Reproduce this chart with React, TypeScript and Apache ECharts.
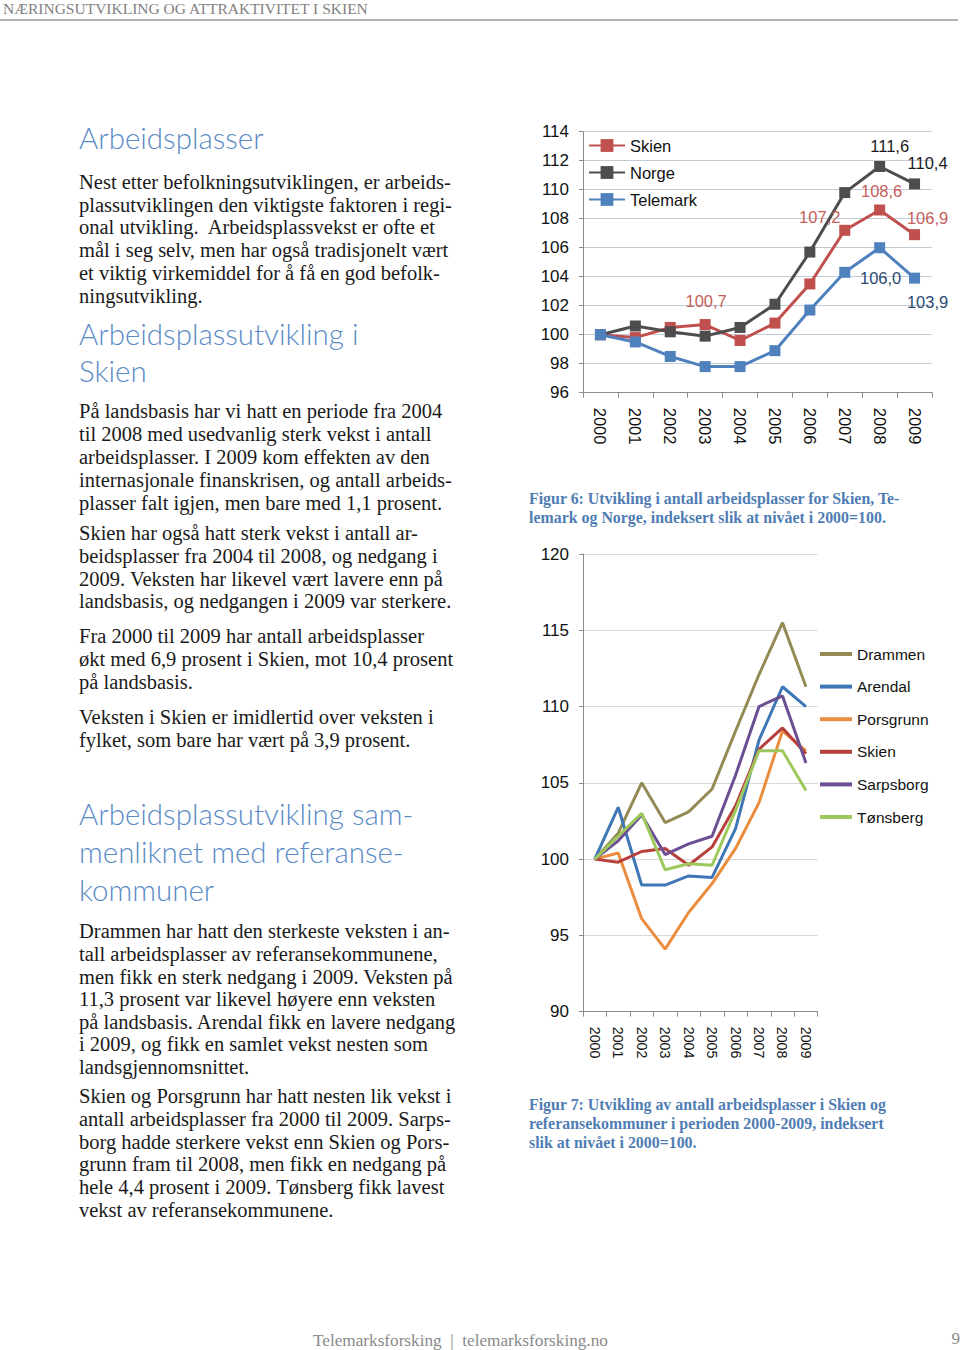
import React, { useEffect, useRef } from "react";
import * as echarts from "echarts";

// ---------- DATA ----------
const years = ["2000", "2001", "2002", "2003", "2004", "2005", "2006", "2007", "2008", "2009"];

// Figur 6
const fig6Skien = [100, 99.8, 100.5, 100.7, 99.6, 100.8, 103.5, 107.2, 108.6, 106.9];
const fig6Norge = [100, 100.6, 100.2, 99.9, 100.5, 102.1, 105.7, 109.8, 111.6, 110.4];
const fig6Telemark = [100, 99.5, 98.5, 97.8, 97.8, 98.9, 101.7, 104.3, 106.0, 103.9];
const fig6YTicks = { min: 96, max: 114, step: 2 };

// Figur 7
const fig7Drammen = [100, 101.7, 105.0, 102.4, 103.1, 104.6, 108.4, 112.1, 115.5, 111.3];
const fig7Arendal = [100, 103.4, 98.3, 98.3, 98.9, 98.8, 102.0, 107.8, 111.3, 110.0];
const fig7Porsgrunn = [100, 100.4, 96.1, 94.1, 96.5, 98.4, 100.7, 103.7, 108.4, 107.1];
const fig7Skien = [100, 99.8, 100.5, 100.7, 99.6, 100.8, 103.5, 107.2, 108.6, 106.9];
const fig7Sarpsborg = [100, 101.2, 102.9, 100.3, 101.0, 101.5, 105.5, 110.0, 110.7, 106.3];
const fig7Tonsberg = [100, 101.5, 103.0, 99.3, 99.7, 99.6, 103.2, 107.1, 107.1, 104.5];
const fig7YTicks = { min: 90, max: 120, step: 5 };

// Labelled points in figur 6 (series -> year indices)
const fig6Labelled = { Skien: [3, 7, 8, 9], Norge: [8, 9], Telemark: [8, 9] };

// ---------- PAGE TEXT ----------
const headerText = "NÆRINGSUTVIKLING OG ATTRAKTIVITET I SKIEN";
const footerText = "Telemarksforsking  |  telemarksforsking.no";
const pageNumber = "9";

const heading1 = ["Arbeidsplasser"];
const para1 = [
  "Nest etter befolkningsutviklingen, er arbeids-",
  "plassutviklingen den viktigste faktoren i regi-",
  "onal utvikling.  Arbeidsplassvekst er ofte et",
  "mål i seg selv, men har også tradisjonelt vært",
  "et viktig virkemiddel for å få en god befolk-",
  "ningsutvikling.",
];
const heading2 = ["Arbeidsplassutvikling i", "Skien"];
const para2 = [
  "På landsbasis har vi hatt en periode fra 2004",
  "til 2008 med usedvanlig sterk vekst i antall",
  "arbeidsplasser. I 2009 kom effekten av den",
  "internasjonale finanskrisen, og antall arbeids-",
  "plasser falt igjen, men bare med 1,1 prosent.",
];
const para3 = [
  "Skien har også hatt sterk vekst i antall ar-",
  "beidsplasser fra 2004 til 2008, og nedgang i",
  "2009. Veksten har likevel vært lavere enn på",
  "landsbasis, og nedgangen i 2009 var sterkere.",
];
const para4 = [
  "Fra 2000 til 2009 har antall arbeidsplasser",
  "økt med 6,9 prosent i Skien, mot 10,4 prosent",
  "på landsbasis.",
];
const para5 = [
  "Veksten i Skien er imidlertid over veksten i",
  "fylket, som bare har vært på 3,9 prosent.",
];
const heading3 = ["Arbeidsplassutvikling sam-", "menliknet med referanse-", "kommuner"];
const para6 = [
  "Drammen har hatt den sterkeste veksten i an-",
  "tall arbeidsplasser av referansekommunene,",
  "men fikk en sterk nedgang i 2009. Veksten på",
  "11,3 prosent var likevel høyere enn veksten",
  "på landsbasis. Arendal fikk en lavere nedgang",
  "i 2009, og fikk en samlet vekst nesten som",
  "landsgjennomsnittet.",
];
const para7 = [
  "Skien og Porsgrunn har hatt nesten lik vekst i",
  "antall arbeidsplasser fra 2000 til 2009. Sarps-",
  "borg hadde sterkere vekst enn Skien og Pors-",
  "grunn fram til 2008, men fikk en nedgang på",
  "hele 4,4 prosent i 2009. Tønsberg fikk lavest",
  "vekst av referansekommunene.",
];
const caption6 = [
  "Figur 6: Utvikling i antall arbeidsplasser for Skien, Te-",
  "lemark og Norge, indeksert slik at nivået i 2000=100.",
];
const caption7 = [
  "Figur 7: Utvikling av antall arbeidsplasser i Skien og",
  "referansekommuner i perioden 2000-2009, indeksert",
  "slik at nivået i 2000=100.",
];

// ---------- STYLES ----------
const SERIF = "'Liberation Serif', 'DejaVu Serif', serif";
const SANS = "'Liberation Sans', Arial, sans-serif";
const LIGHT = "Lato, 'Open Sans', sans-serif";
const headingColor = "#5a8bc6";
const captionColor = "#4f7db3";
const bodyColor = "#1a1a1a";

type Block = { lines: string[]; x: number; baseline: number; step: number; size: number; font: string; color: string; weight?: any; k: number };

function blockElements(b: Block) {
  return b.lines.map((t, i) => ({
    type: "text",
    x: b.x,
    y: b.baseline + i * b.step - b.k * b.size,
    silent: true,
    style: {
      text: t,
      fontSize: b.size,
      fontFamily: b.font,
      fontWeight: b.weight || "normal",
      fill: b.color,
      align: "left",
      verticalAlign: "middle",
      textAlign: "left",
      textVerticalAlign: "middle",
    },
  }));
}

function fmt(v: number) {
  return v.toFixed(1).replace(".", ",");
}

const labelStyle: Record<string, { color: string; offsets: Record<number, [number, number]> }> = {
  Skien: { color: "#c4605b", offsets: { 3: [1, -24], 7: [-25, -13], 8: [2, -19], 9: [13, -17] } },
  Norge: { color: "#1a1a1a", offsets: { 8: [10, -21], 9: [13, -21] } },
  Telemark: { color: "#2a4a70", offsets: { 8: [1, 30], 9: [13, 24] } },
};

function fig6Data(name: string, values: number[]) {
  const idx: number[] = (fig6Labelled as any)[name];
  const st = labelStyle[name];
  return values.map((v, i) =>
    idx.includes(i)
      ? {
          value: v,
          label: {
            show: true,
            position: "inside",
            offset: st.offsets[i],
            formatter: () => fmt(v),
            color: st.color,
            fontSize: 16.5,
            fontFamily: SANS,
          },
        }
      : v
  );
}

export default function App() {
  const ref = useRef<HTMLDivElement>(null);

  useEffect(() => {
    if (!ref.current) return;
    const chart = echarts.init(ref.current, undefined, { renderer: "svg" });

    const bodyBlocks: Block[] = [
      { lines: para1, x: 79, baseline: 189, step: 22.7, size: 20.5, font: SERIF, color: bodyColor, k: 0.3375 },
      { lines: para2, x: 79, baseline: 418.3, step: 22.8, size: 20.5, font: SERIF, color: bodyColor, k: 0.3375 },
      { lines: para3, x: 79, baseline: 540, step: 22.8, size: 20.5, font: SERIF, color: bodyColor, k: 0.3375 },
      { lines: para4, x: 79, baseline: 643, step: 22.8, size: 20.5, font: SERIF, color: bodyColor, k: 0.3375 },
      { lines: para5, x: 79, baseline: 723.8, step: 22.8, size: 20.5, font: SERIF, color: bodyColor, k: 0.3375 },
      { lines: para6, x: 79, baseline: 938.3, step: 22.6, size: 20.5, font: SERIF, color: bodyColor, k: 0.3375 },
      { lines: para7, x: 79, baseline: 1103, step: 22.8, size: 20.5, font: SERIF, color: bodyColor, k: 0.3375 },
      { lines: heading1, x: 79, baseline: 149.3, step: 37.5, size: 29.5, font: LIGHT, color: headingColor, weight: 300, k: 0.387 },
      { lines: heading2, x: 79, baseline: 345, step: 37, size: 29.5, font: LIGHT, color: headingColor, weight: 300, k: 0.387 },
      { lines: heading3, x: 79, baseline: 825, step: 37.8, size: 29.5, font: LIGHT, color: headingColor, weight: 300, k: 0.387 },
      { lines: caption6, x: 529, baseline: 504, step: 19.3, size: 15.9, font: SERIF, color: captionColor, weight: "bold", k: 0.3375 },
      { lines: caption7, x: 529, baseline: 1110, step: 18.7, size: 15.9, font: SERIF, color: captionColor, weight: "bold", k: 0.3375 },
      { lines: [headerText], x: 3, baseline: 14, step: 0, size: 15.5, font: SERIF, color: "#7f7f7f", k: 0.3375 },
      { lines: [footerText], x: 313, baseline: 1346, step: 0, size: 17.2, font: SERIF, color: "#8a8a8a", k: 0.3375 },
    ];

    const elements: any[] = [];
    bodyBlocks.forEach((b) => elements.push(...blockElements(b)));
    elements.push({
      type: "line",
      silent: true,
      shape: { x1: 0, y1: 20, x2: 958, y2: 20 },
      style: { stroke: "#b3b3b3", lineWidth: 2 },
    });
    elements.push({
      type: "text",
      x: 960,
      y: 1344 - 0.3375 * 17,
      silent: true,
      style: {
        text: pageNumber,
        fontSize: 17,
        fontFamily: SERIF,
        fill: "#8a8a8a",
        align: "right",
        textAlign: "right",
        verticalAlign: "middle",
        textVerticalAlign: "middle",
      },
    });

    const axisLineColor = "#8c8c8c";
    const yAxisCommon = (t: { min: number; max: number; step: number }, grid: number, splitColor: string) => ({
      type: "value",
      gridIndex: grid,
      min: t.min,
      max: t.max,
      interval: t.step,
      axisLine: { show: true, lineStyle: { color: axisLineColor, width: 1 } },
      axisTick: { show: true, length: 4, lineStyle: { color: axisLineColor } },
      axisLabel: { fontSize: 17, color: "#111", fontFamily: SANS, margin: 14 },
      splitLine: { show: true, lineStyle: { color: splitColor, width: 1 } },
    });
    const xAxisCommon = (grid: number, size: number) => ({
      type: "category",
      gridIndex: grid,
      data: years,
      boundaryGap: true,
      axisLine: { show: true, lineStyle: { color: axisLineColor, width: 1 } },
      axisTick: { show: true, length: 5, alignWithLabel: false, lineStyle: { color: axisLineColor } },
      axisLabel: { rotate: -90, fontSize: size, color: "#111", fontFamily: SANS, margin: 15, interval: 0 },
      splitLine: { show: false },
    });

    const fig6Colors = { Skien: "#c0504d", Norge: "#4d4d4d", Telemark: "#4f81bd" };
    const fig6Series = [
      { name: "Skien", data: fig6Data("Skien", fig6Skien), color: fig6Colors.Skien },
      { name: "Norge", data: fig6Data("Norge", fig6Norge), color: fig6Colors.Norge },
      { name: "Telemark", data: fig6Data("Telemark", fig6Telemark), color: fig6Colors.Telemark },
    ].map((s) => ({
      type: "line",
      name: s.name,
      xAxisIndex: 0,
      yAxisIndex: 0,
      data: s.data,
      symbol: "rect",
      symbolSize: 11,
      showSymbol: true,
      lineStyle: { width: 3, color: s.color },
      itemStyle: { color: s.color },
      label: { show: false },
    }));

    const fig7Defs = [
      { name: "Drammen", data: fig7Drammen, color: "#948a54" },
      { name: "Arendal", data: fig7Arendal, color: "#3f76b5" },
      { name: "Porsgrunn", data: fig7Porsgrunn, color: "#eb8d3e" },
      { name: "Skien ", data: fig7Skien, color: "#b8403c" },
      { name: "Sarpsborg", data: fig7Sarpsborg, color: "#6c4f92" },
      { name: "Tønsberg", data: fig7Tonsberg, color: "#9dc85c" },
    ];
    const fig7Series = fig7Defs.map((s) => ({
      type: "line",
      name: s.name,
      xAxisIndex: 1,
      yAxisIndex: 1,
      data: s.data,
      symbol: "none",
      lineStyle: { width: 3, color: s.color },
      itemStyle: { color: s.color },
    }));

    chart.setOption({
      animation: false,
      backgroundColor: "#ffffff",
      grid: [
        { left: 583, top: 131.7, width: 349, height: 261, containLabel: false },
        { left: 583, top: 554, width: 234.7, height: 457.7, containLabel: false },
      ],
      xAxis: [xAxisCommon(0, 16.5), xAxisCommon(1, 14.3)],
      yAxis: [yAxisCommon(fig6YTicks, 0, "#c3cbd6"), yAxisCommon(fig7YTicks, 1, "#d9d9d9")],
      legend: [
        {
          data: ["Skien", "Norge", "Telemark"],
          orient: "vertical",
          left: 588,
          top: 137,
          padding: 0,
          itemWidth: 36,
          itemHeight: 16,
          itemGap: 10,
          selectedMode: false,
          textStyle: { fontSize: 16.5, lineHeight: 16, color: "#111", fontFamily: SANS },
        },
        {
          data: fig7Defs.map((d) => ({ name: d.name, icon: "rect" })),
          orient: "vertical",
          left: 820,
          top: 646,
          padding: 0,
          itemWidth: 32,
          itemHeight: 4,
          itemGap: 16.6,
          selectedMode: false,
          textStyle: { fontSize: 15.5, lineHeight: 16, color: "#111", fontFamily: SANS },
        },
      ],
      series: [...fig6Series, ...fig7Series],
      graphic: { elements },
    } as any);

    return () => chart.dispose();
  }, []);

  return (
    <div
      ref={ref}
      style={{ position: "absolute", left: 0, top: 0, width: 960, height: 1350, background: "#fff" }}
    />
  );
}
